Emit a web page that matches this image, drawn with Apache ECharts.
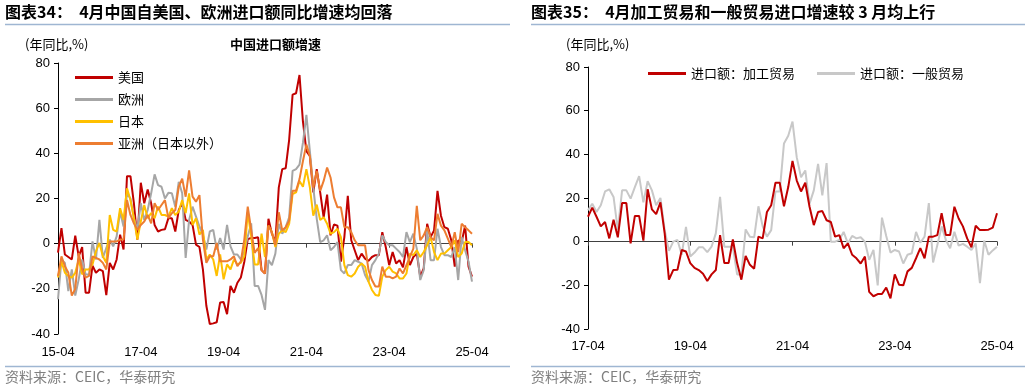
<!DOCTYPE html>
<html><head><meta charset="utf-8">
<script src="https://cdn.jsdelivr.net/npm/echarts@6/dist/echarts.min.js"></script>
<style>html,body{margin:0;padding:0;background:#fff}#c{width:1030px;height:392px}</style>
</head><body><div id="c"></div>
<script>
// ---- categories (month labels) ----
function months(y0, m0, n){var a=[];for(var i=0;i<n;i++){var t=(m0-1)+i;var y=y0+Math.floor(t/12);var m=t%12+1;a.push(String(y).slice(2)+'-'+(m<10?'0'+m:m));}return a;}
var catsLeft = months(2015,4,121);   // 15-04 .. 25-04
var catsRight = months(2017,4,97);   // 17-04 .. 25-04
var yTicks = [-40,-20,0,20,40,60,80];

// ---- left chart: 中国进口额增速 (%) ----
var usa = [-4,6.9,-4.8,-5.9,-7,3.5,-5.6,-1.5,-21.7,-21.7,-9.7,-12.9,-11.4,-12.2,-22.8,-8.5,-11.4,-7,4,-2.6,29.9,29.9,17.9,1.8,27,17.9,24,17.9,8.3,5.4,6.1,6.4,11.3,11.3,5.4,14.9,17.9,10.5,9.8,8.3,-0.4,-1.5,-11.4,-27.5,-35.6,-35.3,-34.8,-26,-25.8,-31.2,-18.7,-21.7,-17.3,-15,-8,2,2.5,2.5,2.8,-11.7,-13.2,
  11,4.4,0.7,24.9,33,33.4,46,66,66.6,74.7,54,41,38.8,22.7,33,22.7,11.7,21.7,3.7,8.5,8,-8,2.9,21.2,1.5,-2.9,-7.3,-4.4,-6.6,-7.6,-5.9,-5.1,-5.1,5.1,-1.5,-9.5,-3.7,-8.8,-7.3,-10.5,-1.5,-9.5,-5.9,-4.4,-14.6,-11,8.8,2.9,5.9,23.4,12.4,7.3,6.6,1.5,-10.2,1.5,0.7,8,-10.2,-14.6];
var europe = [-24.6,-7,-8.5,-21,-11.4,-23,-15.8,-7,-13.6,-13.6,1,-7,10.5,-6.3,-1.9,1.8,-1.2,3.2,14.2,7.6,22.3,20,11.3,6.1,17.9,10.5,14.9,22.3,30.7,25.9,25.2,20,22.5,22.3,16.4,27.4,22.3,-6.3,10.5,16.4,12,7.6,4,-2.6,5.4,6.1,-2.6,2.5,-2.6,8.3,-1.2,-4.8,-4.8,-7,-3.4,3.2,9,-18.7,-18.7,-22.7,-29.3,
  -7.3,-9.5,-4.4,8.8,4.4,7.3,11.7,32.2,33,35,44.7,57,41,24.9,11,0.7,1.5,3.7,-2.9,-1.5,0.7,-11.7,-13.2,-9.5,-9.5,-7.3,-8,-8.8,-13.9,-16.8,-9.5,-7.3,-4.4,3.7,0.7,-0.7,-0.7,-2.2,-3.7,-5.9,5.1,0.7,4.4,-2.2,-16.1,-11.7,5.9,-7.3,-7.3,6.6,-1.5,-5.1,-5.1,-5.9,-1.5,-16.1,2.9,-2.9,-8,-16.8];
var japan = [-15,-7.8,-12.9,-14.3,-15,-12.9,-7,-13.6,-11.4,-11.4,-9.2,-3.4,0.3,-5.6,-8.5,12.7,6.1,5.4,15.7,10.5,24.5,19.3,11.3,1.8,9.8,17.1,11.3,13.5,11.3,16.4,12.7,12.7,12,15.7,12.7,14.2,19.3,13.5,22.3,8.3,11.3,4,6.1,-7,-4.8,-7,-14.3,-4.8,-15.8,-9.2,-11.4,-7,-9.2,-8.5,-5.6,14,3.2,-9.2,-9.2,4.4,-5.9,
  8,5.1,-1.5,4.4,5.9,5.1,8.8,22,22.7,27.8,25.2,33,24.9,12.4,17.3,10.5,11.7,8.8,4.4,5.1,6.6,2.9,-9.5,-13.9,-14.6,-13.2,-10.2,-8.8,-10.2,-16.8,-20.5,-22.7,-23.1,-14.6,-11.7,-10.2,-12.4,-13.2,-15.4,-15.4,-13.2,-4.4,-5.1,-2.9,-5.9,-3.7,-0.7,2.9,-3.7,-7.3,-4.4,-4.4,-2.9,-1.5,1.5,-5.9,-4.4,0.7,0.7,-0.7];
var asiaExJapan = [-14.3,-5.6,-10,-12.9,-23,-20,-4.1,-11.4,-15,-14.3,-5.6,-6.3,-7,-8.5,-11.4,1,1,1,1.8,1.8,19.3,12.7,9,6.1,8.3,9.8,12.7,9,17.9,14.9,17.1,19.3,11.3,13.5,14.9,25.2,28.8,20.8,32.5,20.8,18.6,21.5,1.8,-8.5,-5.6,-5.6,0.3,-7.8,-7.8,-7.8,-7,-5.6,-10,-7.8,1.8,16.4,6.1,-4.1,-1.9,-11.7,-13.2,
  8,5.1,-0.7,13.9,5.9,7.3,10.2,23.4,23.4,28.6,36.6,43.9,38.8,24.9,32.2,23.4,27.8,33.7,29.3,20.5,16.1,16.1,7.3,7.3,5.1,1.5,-0.7,-0.7,-0.7,-11.7,-16.1,-19,-19,-10.2,-14.6,-14.6,-15.4,-14.6,-11,-13.2,-9.5,-5.9,-2.2,16.8,1.5,3.7,7.3,2.9,1.5,13.2,8,5.9,2.2,-1.5,5.1,-3.7,8.8,7.3,5.9,4.4];

// ---- right chart: 进口额同比 (%) ----
var processing = [11.4,15.6,11.4,7,9,1.5,10,2,17.7,17.7,-0.8,11.8,11.8,0.5,24,14.8,12.6,18,3.8,-17.4,-13,-12.9,-3.8,-4.5,-9.8,-12,-13,-14.7,-18,-15,-13,3,-9.8,-9.8,1,-9.8,-17.4,-6.5,-10.6,-12.4,2.3,1.5,13.6,16.7,27,27,16.2,25,37,
  28,23,27,16,7.6,13.6,14,9.8,9,2.3,3,-3,-0.8,-6,-7.6,-10,-6.8,-23,-25,-24,-24,-21,-26,-15,-19.7,-20,-13.6,-12,-7.6,-3,-7.6,2.3,2.3,3,13,3,3,16,10.6,7,1.5,-2.6,7.3,5.3,5.3,5.5,6.4,13];
var general = [14.4,17.4,13.6,16.7,23,24,20.5,5.3,23.5,23.5,19.7,25,30,18,27.7,23.5,16.7,20,5.3,-4.2,0,0.8,-6,6.8,-6.8,-5,-2.6,-2.6,-4.8,-2.3,3.8,20.5,-2.3,-2.3,-2.3,-15,-15,5.6,2.3,2,16.2,7,2.3,5.3,23,23,45,48.5,55,
  38.6,29.5,32.6,17.4,23.5,35.6,21.2,36,0,0,0.8,4.5,-0.8,2.6,1.5,2,0,-8.3,-3.8,-20,11,2.6,-5,-3.8,-4.5,-10,-6,-5.3,4.5,-0.5,2.3,17.7,-9.5,-1.5,7,0.8,-3,4.5,-1.8,-1,-2.3,-3.8,-0.8,-19,0.5,-6,-4,-2.3];

var NUM = 'Liberation Sans, Arial, sans-serif';
var CJK = '"Noto Sans CJK SC", sans-serif';
var chart = echarts.init(document.getElementById('c'), null, {renderer:'canvas'});
function every24(i){return i % 24 === 0;}
function yAxisCfg(gi){
  return {type:'value', gridIndex:gi, min:yTicks[0], max:yTicks[yTicks.length-1], interval:20,
    axisLine:{show:true, lineStyle:{color:'#000', width:1}},
    axisTick:{show:true, length:4, lineStyle:{color:'#000'}},
    axisLabel:{color:'#000', fontSize:13, fontFamily:NUM, margin:8},
    splitLine:{show:false}};
}
function xLineAxis(gi, cats){
  return {type:'category', gridIndex:gi, data:cats, boundaryGap:false,
    axisLine:{show:true, onZero:true, lineStyle:{color:'#404040', width:1}},
    axisTick:{show:true, interval:every24, length:4, lineStyle:{color:'#404040'}},
    axisLabel:{show:false}, splitLine:{show:false}};
}
function xLabelAxis(gi, cats, margin){
  return {type:'category', gridIndex:gi, data:cats, boundaryGap:false, position:'bottom',
    axisLine:{show:false, onZero:false}, axisTick:{show:false},
    axisLabel:{show:true, interval:every24, color:'#000', fontSize:13, fontFamily:NUM, margin:margin, hideOverlap:false},
    splitLine:{show:false}};
}
function ln(name, data, color, xi, yi, z){
  return {name:name, type:'line', data:data, xAxisIndex:xi, yAxisIndex:yi, symbol:'none', showSymbol:false,
    lineStyle:{color:color, width:2}, itemStyle:{color:color}, z:z||2, animation:false, silent:true};
}
var line = '#9FB6D2';
chart.setOption({
  animation:false,
  grid:[{left:58, top:63, width:414, height:271},
        {left:588, top:67, width:409, height:262}],
  xAxis:[xLineAxis(0,catsLeft), xLabelAxis(0,catsLeft,12), xLineAxis(1,catsRight), xLabelAxis(1,catsRight,11)],
  yAxis:[yAxisCfg(0), yAxisCfg(1)],
  legend:[
    {orient:'vertical', left:70, top:66, itemWidth:38, itemHeight:3, icon:'rect', itemGap:9,
     textStyle:{fontSize:13, color:'#000', fontFamily:CJK},
     data:['美国','欧洲','日本','亚洲（日本以外）']},
    {orient:'horizontal', left:643, top:62, itemWidth:38, itemHeight:3, icon:'rect', itemGap:22,
     textStyle:{fontSize:13, color:'#000', fontFamily:CJK},
     data:['进口额：加工贸易','进口额：一般贸易']}
  ],
  series:[
    ln('美国', usa, '#C00000', 0, 0, 2),
    ln('欧洲', europe, '#A6A6A6', 0, 0, 2),
    ln('日本', japan, '#FFC000', 0, 0, 2),
    ln('亚洲（日本以外）', asiaExJapan, '#ED7D31', 0, 0, 2),
    ln('进口额：一般贸易', general, '#C8C8C8', 2, 1, 2),
    ln('进口额：加工贸易', processing, '#C00000', 2, 1, 3)
  ],
  graphic:[
    {type:'text', left:5, top:4, style:{text:'图表34：  4月中国自美国、欧洲进口额同比增速均回落', font:'bold 16px "Noto Sans CJK SC"', fill:'#000'}},
    {type:'text', left:531, top:4, style:{text:'图表35：  4月加工贸易和一般贸易进口增速较 3 月均上行', font:'bold 16px "Noto Sans CJK SC"', fill:'#000'}},
    {type:'line', shape:{x1:5, y1:24.5, x2:510, y2:24.5}, style:{stroke:line, lineWidth:1.5}},
    {type:'line', shape:{x1:531, y1:24.5, x2:1025, y2:24.5}, style:{stroke:line, lineWidth:1.5}},
    {type:'line', shape:{x1:5, y1:366.5, x2:510, y2:366.5}, style:{stroke:line, lineWidth:1.5}},
    {type:'line', shape:{x1:531, y1:366.5, x2:1025, y2:366.5}, style:{stroke:line, lineWidth:1.5}},
    {type:'text', left:25, top:38, style:{text:'(年同比,%)', font:'13px "Noto Sans CJK SC"', fill:'#000'}},
    {type:'text', left:566, top:38, style:{text:'(年同比,%)', font:'13px "Noto Sans CJK SC"', fill:'#000'}},
    {type:'text', left:230, top:38, style:{text:'中国进口额增速', font:'bold 13px "Noto Sans CJK SC"', fill:'#000'}},
    {type:'text', left:5, top:370, style:{text:'资料来源：CEIC，华泰研究', font:'14px "Noto Sans CJK SC"', fill:'#808080'}},
    {type:'text', left:531, top:370, style:{text:'资料来源：CEIC，华泰研究', font:'14px "Noto Sans CJK SC"', fill:'#808080'}}
  ]
});
</script>
</body></html>
